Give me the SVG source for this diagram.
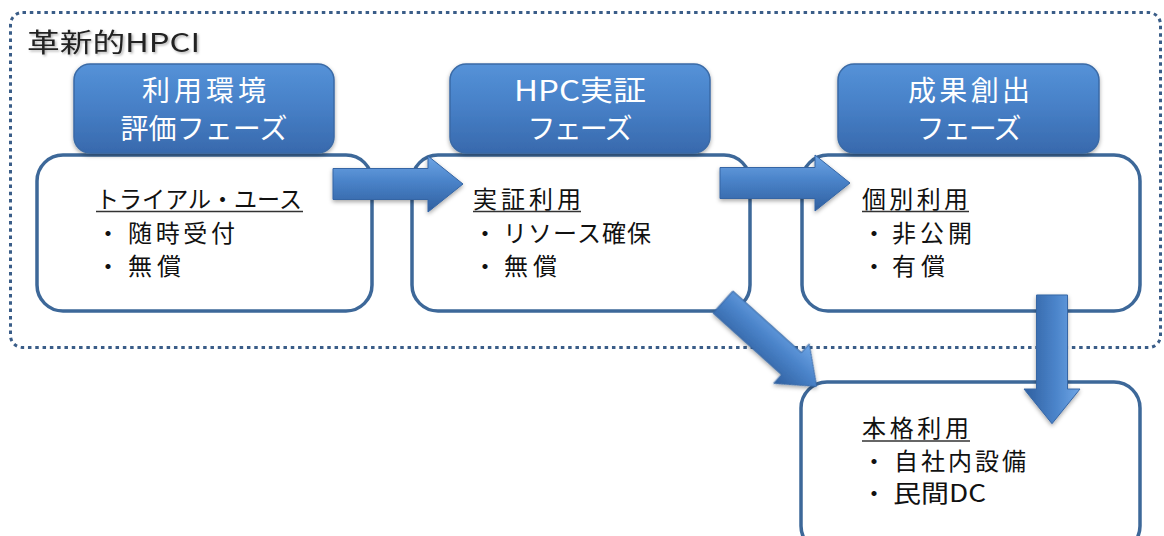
<svg xmlns="http://www.w3.org/2000/svg" width="1164" height="536" viewBox="0 0 1164 536">
<style>
.jp{font-family:"Noto Sans CJK JP","Noto Sans",sans-serif}
.box{fill:#fff;stroke:#3d6899;stroke-width:3.5}
.hdr{fill:url(#hg);stroke:#3a6aa6;stroke-width:1.5}
.ht{fill:#fff;font-size:28px;text-anchor:middle}
.bt{fill:#111;font-size:24px}
.ul{stroke:#333;stroke-width:1.5}
.arrow{fill:url(#ag);stroke:#3465a4;stroke-width:1}
</style>
<defs>
<linearGradient id="hg" x1="0" y1="0" x2="0" y2="1">
<stop offset="0" stop-color="#5592d8"/>
<stop offset="0.5" stop-color="#467fc6"/>
<stop offset="1" stop-color="#3869ad"/>
</linearGradient>
<linearGradient id="ag" x1="0" y1="0" x2="0" y2="1">
<stop offset="0" stop-color="#6fa6e6"/>
<stop offset="0.45" stop-color="#4a83c9"/>
<stop offset="1" stop-color="#2f5f9f"/>
</linearGradient>
<filter id="sh" x="-10%" y="-10%" width="120%" height="130%">
<feDropShadow dx="0" dy="2" stdDeviation="2" flood-color="#000" flood-opacity="0.35"/>
</filter>
<filter id="tsh" x="-5%" y="-20%" width="110%" height="150%">
<feDropShadow dx="1.5" dy="1.5" stdDeviation="1" flood-color="#000" flood-opacity="0.3"/>
</filter>
<path id="arr" d="M0,-15.5 H95 V-28 L130,0 L95,28 V15.5 H0 Z"/>
</defs>
<rect width="1164" height="536" fill="#fff"/>

<g id="container">
<rect x="10.5" y="12.5" width="1150" height="335" rx="12" fill="none" stroke="#3a5d88" stroke-width="3" stroke-dasharray="3.5 3.8"/>
<text class="jp" x="27" y="52" font-size="26" fill="#222" filter="url(#tsh)" textLength="173" lengthAdjust="spacingAndGlyphs">革新的HPCI</text>
</g>

<g id="box1">
<rect class="box" x="37" y="155" width="335" height="156" rx="26"/>
<text class="jp bt" x="96" y="208" textLength="206" lengthAdjust="spacingAndGlyphs">トライアル・ユース</text>
<line class="ul" x1="96" y1="211.5" x2="303" y2="211.5"/>
<text class="jp bt" x="96" y="242">・</text>
<text class="jp bt" x="128" y="242" textLength="107" lengthAdjust="spacing">随時受付</text>
<text class="jp bt" x="96" y="275">・</text>
<text class="jp bt" x="128" y="275" textLength="53" lengthAdjust="spacing">無償</text>
</g>
<g id="header1">
<rect class="hdr" x="74" y="64" width="260" height="89" rx="16" filter="url(#sh)"/>
<text class="jp ht" x="204" y="101" textLength="124" lengthAdjust="spacing">利用環境</text>
<text class="jp ht" x="204" y="139" textLength="167" lengthAdjust="spacing">評価フェーズ</text>
</g>

<g id="box2">
<rect class="box" x="412" y="155" width="338" height="156" rx="26"/>
<text class="jp bt" x="473" y="208" textLength="108" lengthAdjust="spacing">実証利用</text>
<line class="ul" x1="473" y1="211.5" x2="581" y2="211.5"/>
<text class="jp bt" x="473" y="242">・</text>
<text class="jp bt" x="503" y="242" textLength="148" lengthAdjust="spacing">リソース確保</text>
<text class="jp bt" x="473" y="275">・</text>
<text class="jp bt" x="504" y="275" textLength="53" lengthAdjust="spacing">無償</text>
</g>
<g id="header2">
<rect class="hdr" x="450" y="64" width="260" height="89" rx="16" filter="url(#sh)"/>
<text class="jp ht" x="580" y="101" textLength="132" lengthAdjust="spacingAndGlyphs">HPC実証</text>
<text class="jp ht" x="580" y="139" textLength="105" lengthAdjust="spacing">フェーズ</text>
</g>

<g id="box3">
<rect class="box" x="802" y="155" width="338" height="156" rx="26"/>
<text class="jp bt" x="862" y="208" textLength="106" lengthAdjust="spacing">個別利用</text>
<line class="ul" x1="862" y1="211.5" x2="969" y2="211.5"/>
<text class="jp bt" x="862" y="242">・</text>
<text class="jp bt" x="892" y="242" textLength="80" lengthAdjust="spacing">非公開</text>
<text class="jp bt" x="862" y="275">・</text>
<text class="jp bt" x="892" y="275" textLength="53" lengthAdjust="spacing">有償</text>
</g>
<g id="header3">
<rect class="hdr" x="838" y="64" width="261" height="89" rx="16" filter="url(#sh)"/>
<text class="jp ht" x="969" y="101" textLength="122" lengthAdjust="spacing">成果創出</text>
<text class="jp ht" x="969" y="139" textLength="105" lengthAdjust="spacing">フェーズ</text>
</g>

<g id="box4">
<rect class="box" x="801" y="382" width="339" height="170" rx="26"/>
<text class="jp bt" x="862" y="437" textLength="107" lengthAdjust="spacing">本格利用</text>
<line class="ul" x1="862" y1="441" x2="970" y2="441"/>
<text class="jp bt" x="862" y="470">・</text>
<text class="jp bt" x="894" y="470" textLength="132" lengthAdjust="spacing">自社内設備</text>
<text class="jp bt" x="862" y="502">・</text>
<text class="jp bt" x="893" y="502" textLength="93" lengthAdjust="spacingAndGlyphs">民間DC</text>
</g>

<g id="connectors" filter="url(#sh)">
<use href="#arr" class="arrow" transform="translate(333,184)"/>
<use href="#arr" class="arrow" transform="translate(720,183)"/>
<use href="#arr" class="arrow" transform="translate(723,302) rotate(42) scale(0.97,0.95)"/>
<use href="#arr" class="arrow" transform="translate(1052,295) rotate(90) scale(0.99,1)"/>
</g>
</svg>
